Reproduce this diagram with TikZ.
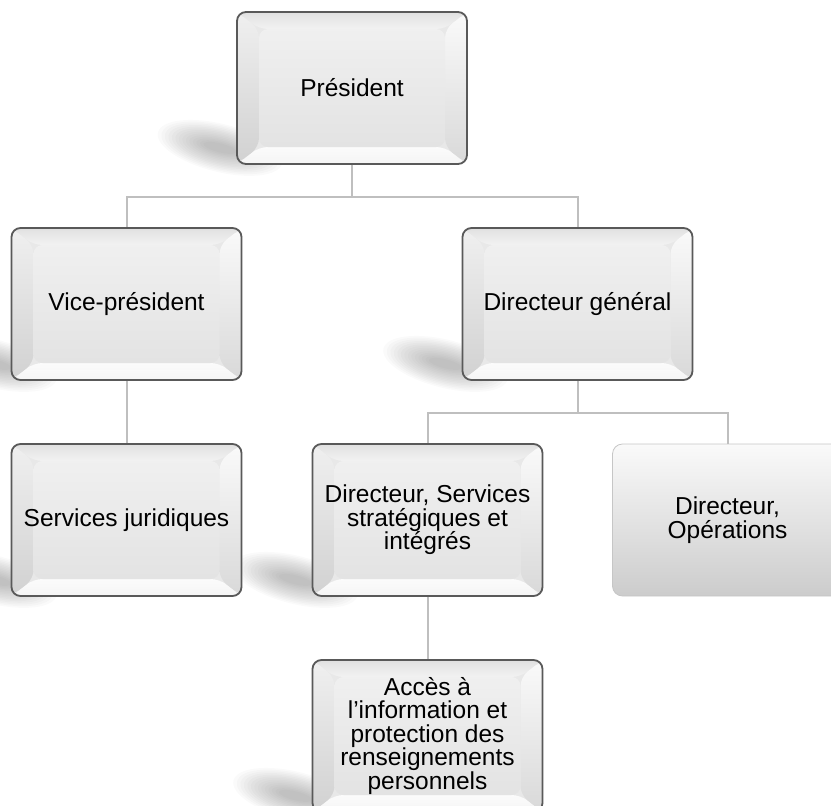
\documentclass[tikz,border=0pt]{standalone}
\usepackage{fontspec}
\setmainfont{Liberation Sans}
\usetikzlibrary{trees,backgrounds}

\tikzstyle{post} = [rounded corners=9pt, minimum width=230pt, minimum height=152pt,
	align=center, draw=black!65, line width=1.8pt, font=\fontsize{24.5}{23.5}\selectfont,
	path picture={
		\coordinate (nw) at (path picture bounding box.north west);
		\coordinate (ne) at (path picture bounding box.north east);
		\coordinate (sw) at (path picture bounding box.south west);
		\coordinate (se) at (path picture bounding box.south east);
		\fill[gray!18] (nw) rectangle (se);
		% bevel
		\shade[top color=gray!24, bottom color=gray!10] (nw) -- (ne) -- ([shift={(-22pt,-17pt)}]ne) -- ([shift={(22pt,-17pt)}]nw) -- cycle;
		\shade[top color=gray!3, bottom color=gray!8] (sw) -- (se) -- ([shift={(-22pt,17pt)}]se) -- ([shift={(22pt,17pt)}]sw) -- cycle;
		\shade[top color=gray!12, bottom color=gray!36] (nw) -- (sw) -- ([shift={(22pt,17pt)}]sw) -- ([shift={(22pt,-17pt)}]nw) -- cycle;
		\shade[top color=gray!4, bottom color=gray!30] (ne) -- (se) -- ([shift={(-22pt,17pt)}]se) -- ([shift={(-22pt,-17pt)}]ne) -- cycle;
		\shade[top color=gray!12, bottom color=gray!22] ([shift={(22pt,-17pt)}]nw) rectangle ([shift={(-22pt,17pt)}]se);
	}]
\tikzstyle{flatpost} = [rounded corners=10pt, minimum width=230pt, minimum height=152pt,
	align=center, top color=gray!4, bottom color=gray!40, draw=gray!45, line width=0.8pt,
	font=\fontsize{24.5}{23.5}\selectfont]

\begin{document}
\begin{tikzpicture}[x=1pt, y=-1pt, grow=down, level distance=216pt,
	level 1/.style={sibling distance=451pt},
	level 2/.style={sibling distance=300pt},
	edge from parent/.style={draw=gray!50, line width=2pt},
	edge from parent path={(\tikzparentnode.south) -- +(0pt,-32pt) -| (\tikzchildnode.north)}]
\useasboundingbox (0,0) rectangle (831,806);
\clip (0,0) rectangle (831,806);
\node[post] (pres) at (352,88) {Président}
	child {
		node[post] (vp) {Vice-président}
		child {
			node[post] (sj) {Services juridiques}
		}
	}
	child {
		node[post] (dg) {Directeur général}
		child {
			node[post] (dssi) {Directeur, Services\\stratégiques et\\intégrés}
			child {
				node[post] (acc) {Accès à\\l’information et\\protection des\\renseignements\\personnels}
			}
		}
		child {
			node[flatpost] (ops) {Directeur,\\Opérations}
		}
	};

% soft shadows
\begin{scope}[on background layer]
	\foreach \n in {pres,vp,dg,sj,dssi,acc}
		\foreach \k in {0,...,13}
			\fill[black, opacity=0.018, shift={(\n.south west)}, shift={(-16pt,17pt)}, rotate=-14]
				(0,0) ellipse [x radius={64pt-3.6pt*\k}, y radius={24pt-1.5pt*\k}];
\end{scope}
\end{tikzpicture}
\end{document}
